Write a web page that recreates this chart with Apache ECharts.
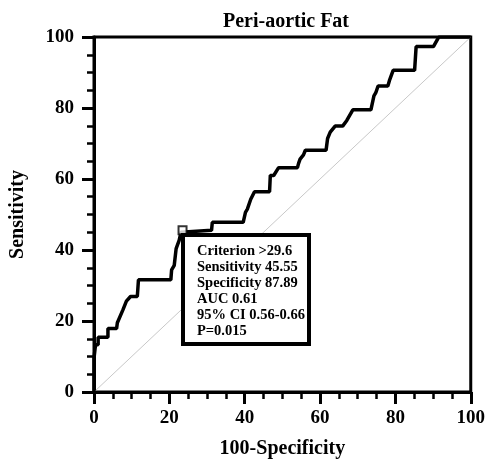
<!DOCTYPE html>
<html><head><meta charset="utf-8">
<script src="https://cdn.jsdelivr.net/npm/echarts@6/dist/echarts.min.js"></script>
<style>html,body{margin:0;padding:0;background:#fff}#c{width:488px;height:464px}</style>
</head><body><div id="c"></div>
<script>
const titleText = 'Peri-aortic Fat';
const xName = '100-Specificity';
const yName = 'Sensitivity';
const rocX = [0,0,0.4,1.1,1.1,3.7,3.7,6.0,6.2,6.6,7.7,8.6,9.7,11.5,11.8,20.4,20.6,21.3,21.8,22.6,23.1,23.5,31.2,31.4,39.6,40.2,40.7,41.6,42.6,46.6,46.8,47.7,49,54,54.3,54.7,55.6,56.1,61.6,62,62.7,64,66,67.1,68.7,73.5,74.3,74.8,75.4,78,78.5,79.4,85.1,85.5,90.1,91.2,91.5,100];
const rocY = [0,9.5,13.3,13.3,15.4,15.4,17.9,17.9,19.5,20,23.2,25.6,26.9,26.9,31.6,31.6,34.4,35.7,40.4,42.7,45,45.55,45.55,47.8,47.8,50.6,51.5,54.3,56.4,56.4,61,61,63.2,63.2,64.4,65.6,66.8,68.1,68.1,71.4,73.2,74.9,74.9,76.5,79.5,79.5,83.4,84.3,86.2,86.2,88,90.6,90.6,97.3,97.3,99.4,100,100];
const criterionPoint = [23.5, 45.55];
const refLine = [[0,0],[100,100]];
const boxLines = ['Criterion >29.6','Sensitivity 45.55','Specificity 87.89','AUC 0.61','95% CI 0.56-0.66','P=0.015'];

const font = 'Liberation Serif';
const rocData = rocX.map((x,i)=>[x, rocY[i]]);
const chart = echarts.init(document.getElementById('c'));
const axisCommon = {
  type:'value', min:0, max:100, interval:20,
  axisLine:{show:true, lineStyle:{color:'#000', width:3}},
  axisTick:{show:true, inside:false, length:12, lineStyle:{color:'#000', width:3}},
  minorTick:{show:true, splitNumber:4, length:7, lineStyle:{color:'#000', width:2.5}},
  splitLine:{show:false},
  nameLocation:'middle',
  nameTextStyle:{fontFamily:font, fontWeight:'bold', fontSize:20, color:'#000'}
};
chart.setOption({
  animation:false,
  title:{text:titleText, left:281, top:7, textAlign:'center',
    textStyle:{fontFamily:font, fontWeight:'bold', fontSize:20, color:'#000'}},
  grid:{left:92.5, right:17, top:37, bottom:67, show:true, borderColor:'#000', borderWidth:3, backgroundColor:'#fff'},
  xAxis:Object.assign({}, axisCommon, {name:xName, nameGap:47,
    axisLabel:{margin:17, fontFamily:font, fontWeight:'bold', fontSize:19, color:'#000'}}),
  yAxis:Object.assign({}, axisCommon, {name:yName, nameGap:66,
    axisLabel:{margin:20, fontFamily:font, fontWeight:'bold', fontSize:19, color:'#000'}}),
  graphic:[
    {type:'rect', shape:{x:183, y:235, width:126, height:109}, style:{fill:'#fff', stroke:'#000', lineWidth:4}, z:100},
    {type:'text', x:197, y:243, z:101, style:{text:boxLines.join('\n'), font:'bold 14.5px "Liberation Serif"', lineHeight:16.1, fill:'#000', verticalAlign:'top'}}
  ],
  series:[
    {type:'line', data:refLine, symbol:'none', lineStyle:{color:'#c8c8c8', width:1}, z:1},
    {type:'line', data:rocData, symbol:'none', lineStyle:{color:'#000', width:3.5}, z:2},
    {type:'scatter', data:[criterionPoint], symbol:'rect', symbolSize:8, itemStyle:{color:'#fff', borderColor:'#000', borderWidth:2}, z:3}
  ]
});
</script></body></html>
